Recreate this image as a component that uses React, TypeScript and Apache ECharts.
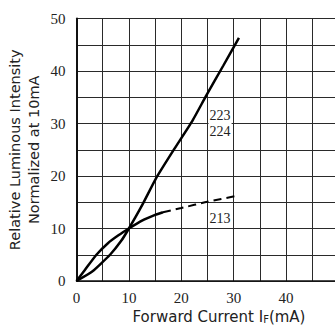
import React, { useEffect, useRef } from "react";
import * as echarts from "echarts";

const current223 = [0, 3, 6.4, 8.5, 10, 12.5, 15.2, 18.7, 22, 24.7, 28, 31];
const intensity223 = [0, 1.8, 5, 7.6, 10, 14.4, 19.6, 25.2, 30.3, 35.2, 41, 46.3];

const current213Solid = [0, 1.6, 3.8, 6, 8, 10, 12.5, 15, 16.5];
const intensity213Solid = [0, 2.1, 5, 7.2, 8.7, 10, 11.5, 12.6, 13.1];

const current213Dashed = [16.5, 20, 25, 30.5];
const intensity213Dashed = [13.1, 13.9, 15.1, 16.2];

const xTickLabels = [0, 10, 20, 30, 40];
const yTickLabels = [0, 10, 20, 30, 40, 50];

const labelNames = ["223\n224", "213"];
const labelCoords: [number, number][] = [[27.4, 30], [27.4, 12]];

const zip = (xs: number[], ys: number[]) => xs.map((x, i) => [x, ys[i]]);

export default function App() {
  const ref = useRef<HTMLDivElement>(null);
  useEffect(() => {
    document.body.style.margin = "0";
    const chart = echarts.init(ref.current!, null, { renderer: "svg" });
    const tickFont = "Liberation Sans Narrow";
    const gridColor = "#2a2a2a";
    chart.setOption({
      animation: false,
      backgroundColor: "#fff",
      grid: { left: 76.5, top: 18.5, width: 262, height: 262.5, outerBoundsMode: "none", containLabel: false },
      xAxis: {
        type: "value",
        min: 0,
        max: 50,
        interval: 5,
        axisLine: { show: true, onZero: false, lineStyle: { color: "#111", width: 1.5 } },
        axisTick: { show: false },
        splitLine: { show: true, lineStyle: { color: gridColor, width: 1 } },
        axisLabel: {
          margin: 9,
          fontFamily: tickFont,
          fontSize: 15,
          color: "#222",
          formatter: (v: number) => (xTickLabels.includes(v) ? String(v) : ""),
        },
        name: "{a|Forward Current I}{s|F}{a|(mA)}",
        nameLocation: "middle",
        nameGap: 20,
        nameTextStyle: {
          padding: [0, 0, 0, 23],
          verticalAlign: "top",
          rich: {
            a: { fontFamily: "DejaVu Sans", fontSize: 15, color: "#222" },
            s: { fontFamily: "DejaVu Sans", fontSize: 10, color: "#222", padding: [4, 0, 0, 0] },
          },
        },
      },
      yAxis: {
        type: "value",
        min: 0,
        max: 50,
        interval: 5,
        axisLine: { show: true, lineStyle: { color: "#111", width: 2 } },
        axisTick: { show: false },
        splitLine: { show: true, lineStyle: { color: gridColor, width: 1 } },
        axisLabel: {
          margin: 11,
          fontFamily: tickFont,
          fontSize: 15,
          color: "#222",
          formatter: (v: number) => (yTickLabels.includes(v) ? String(v) : ""),
        },
        name: "Relative Luminous Intensity\nNormalized at 10mA",
        nameLocation: "middle",
        nameGap: 33,
        nameMoveOverlap: false,
        nameTextStyle: {
          fontFamily: "DejaVu Sans",
          fontSize: 14.5,
          lineHeight: 19,
          color: "#222",
        },
      },
      series: [
        {
          type: "line",
          data: zip(current223, intensity223),
          smooth: 0.15,
          symbol: "none",
          lineStyle: { color: "#000", width: 2.5 },
          markPoint: {
            symbol: "circle",
            symbolSize: 0,
            data: [
              {
                coord: labelCoords[0],
                value: labelNames[0],
                label: {
                  show: true,
                  formatter: labelNames[0],
                  fontFamily: tickFont,
                  fontSize: 14,
                  lineHeight: 16,
                  color: "#222",
                  backgroundColor: "#fff",
                  padding: [0, 1],
                },
              },
              {
                coord: labelCoords[1],
                value: labelNames[1],
                label: {
                  show: true,
                  formatter: labelNames[1],
                  fontFamily: tickFont,
                  fontSize: 14,
                  color: "#222",
                  backgroundColor: "#fff",
                  padding: [0, 1],
                },
              },
            ],
          },
        },
        {
          type: "line",
          data: zip(current213Solid, intensity213Solid),
          smooth: 0.2,
          symbol: "none",
          lineStyle: { color: "#000", width: 2.5 },
        },
        {
          type: "line",
          data: zip(current213Dashed, intensity213Dashed),
          smooth: 0.2,
          symbol: "none",
          lineStyle: { color: "#000", width: 2, type: [8, 5] },
        },
      ],
    });
    return () => chart.dispose();
  }, []);
  return <div ref={ref} style={{ width: 335, height: 329 }} />;
}
